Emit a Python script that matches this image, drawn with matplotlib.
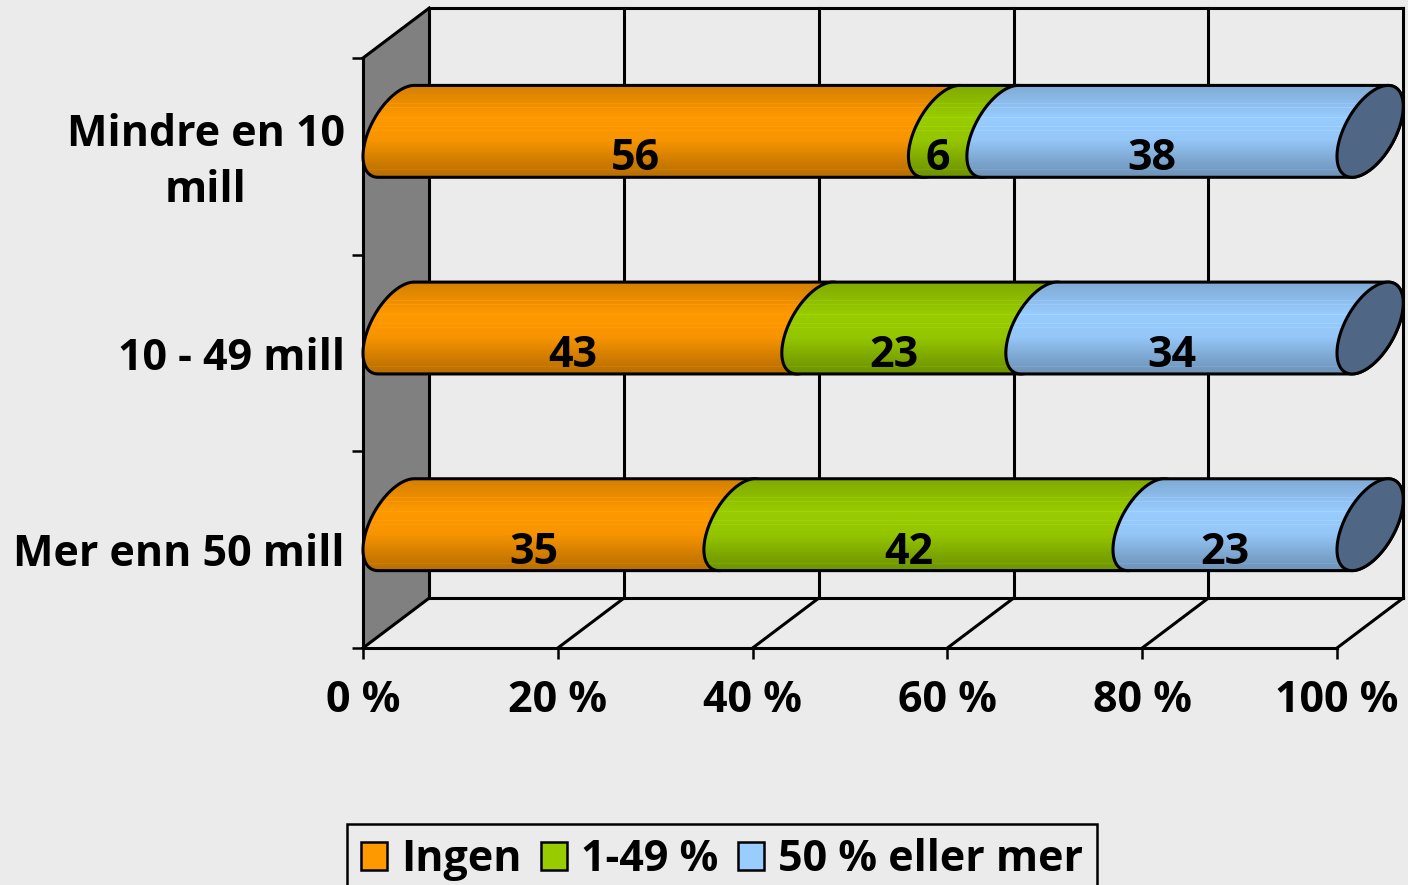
# stacked 3D-look cylinder bars
import numpy as np
import matplotlib
matplotlib.use("Agg")
import matplotlib.pyplot as plt
from matplotlib.patches import Polygon, Patch
from matplotlib.transforms import ScaledTranslation

plt.rcParams['font.family'] = ['Open Sans', 'DejaVu Sans']
plt.rcParams['font.weight'] = 'bold'

# data, bottom row first
categories = ["Mer enn 50 mill", "10 - 49 mill", "Mindre en 10\nmill"]
ingen = [35, 43, 56]
middels = [42, 23, 6]
mye = [23, 34, 38]
series_names = ["Ingen", "1-49 %", "50 % eller mer"]
series_colors = ["#ff9900", "#99cc00", "#99ccff"]
xticks = [0, 20, 40, 60, 80, 100]
xticklabels = ["0 %", "20 %", "40 %", "60 %", "80 %", "100 %"]

bg = "#ebebeb"
fs = 31
lw = 2.2

# depth of the fake 3D box in data units
dx = 6.8
dy = 0.254
b = 0.196
R = np.hypot(dy / 2, b)
t0 = np.arctan2(b, dy / 2)


def ring(v, c, t):
    x = v + dx / 2 + dx / 2 * np.cos(t)
    y = c + dy / 2 + dy / 2 * np.cos(t) + b * np.sin(t)
    return np.column_stack([x, y])


def shaded(color):
    base = np.array(matplotlib.colors.to_rgb(color))
    pos = np.linspace(0, 1, 92)
    shade = np.interp(pos, [0, 0.08, 0.35, 0.6, 0.85, 1], [0.84, 0.87, 1.0, 0.97, 0.8, 0.72])
    # faint lighter stripes as in the old chart export
    for p in [0.2, 0.25, 0.36, 0.46, 0.5, 0.93]:
        shade[int(p * 91)] += 0.05
    return (shade[:, None] * base)[:, None, :].clip(0, 1)


fig = plt.figure(figsize=(14.08, 8.85), dpi=100, facecolor=bg)
ax = fig.add_axes([363 / 1408, (885 - 648) / 885, 974 / 1408, 590 / 885], facecolor="none")
ax.set_xlim(0, 100)
ax.set_ylim(0, 3)
for s in ax.spines.values():
    s.set_visible(False)

# left wall
ax.add_patch(Polygon([(0, 0), (dx, dy), (dx, 3 + dy), (0, 3)], closed=True, fc="#808080", ec="none",
                     clip_on=False, zorder=1))

# back wall and floor lines
for v in xticks:
    ax.plot([v + dx, v + dx], [dy, 3 + dy], color="k", lw=lw, clip_on=False, zorder=2)
    ax.plot([v, v + dx], [0, dy], color="k", lw=lw, clip_on=False, zorder=2)
ax.plot([dx, 100 + dx], [dy, dy], color="k", lw=lw, clip_on=False, zorder=2)
ax.plot([dx, 100 + dx], [3 + dy, 3 + dy], color="k", lw=lw, clip_on=False, zorder=2)
ax.plot([0, 100], [0, 0], color="k", lw=lw, clip_on=False, zorder=2)
ax.plot([0, 0], [0, 3], color="k", lw=lw, clip_on=False, zorder=2)
ax.plot([0, dx], [3, 3 + dy], color="k", lw=lw, clip_on=False, zorder=2)

# bars
z = 3
for i in range(len(categories)):
    c = i + 0.5
    left = 0
    for vals, col in zip([ingen, middels, mye], series_colors):
        right = left + vals[i]
        arc1 = ring(left, c, np.linspace(t0, t0 + np.pi, 60))
        arc2 = ring(right, c, np.linspace(t0 - np.pi, t0, 60))
        outline = Polygon(np.vstack([arc1, arc2]), closed=True, fc="none", ec="k", lw=lw,
                          clip_on=False, zorder=z + 0.5, joinstyle="round")
        im = ax.imshow(shaded(col), extent=[left, right + dx, c + dy / 2 - R, c + dy / 2 + R],
                       aspect="auto", interpolation="nearest", origin="upper", zorder=z)
        ax.add_patch(outline)
        clip = Polygon(np.vstack([arc1, arc2]), closed=True, transform=ax.transData)
        im.set_clip_box(fig.bbox)
        im.set_clip_path(clip)
        ax.text((left + right) / 2, c - 0.012, str(vals[i]), ha="center", va="center", fontsize=fs,
                color="k", zorder=20)
        left = right
        z += 1
    # dark end of the cylinder
    cap = ring(100, c, np.linspace(0, 2 * np.pi, 120))
    ax.add_patch(Polygon(cap, closed=True, fc="#4f6785", ec="k", lw=lw, clip_on=False, zorder=z))
    z += 1

ax.set_xlim(0, 100)
ax.set_ylim(0, 3)

# ticks
ax.set_xticks(xticks)
ax.set_xticklabels(xticklabels, fontsize=fs)
ax.set_yticks([0, 1, 2, 3])
ax.set_yticklabels([])
ax.set_yticks([0.5, 1.5, 2.5], minor=True)
ax.set_yticklabels(categories, minor=True, fontsize=fs, multialignment="center", linespacing=1.38)
ax.tick_params(axis="x", length=8, width=1.8, pad=14)
ax.tick_params(axis="y", which="major", length=8, width=1.8)
ax.tick_params(axis="y", which="minor", length=0, pad=13)

# two line label sits a little higher
top_label = ax.get_yticklabels(minor=True)[2]
top_label.set_transform(top_label.get_transform() + ScaledTranslation(0, 5 / 100, fig.dpi_scale_trans))

handles = [Patch(fc=col, ec="k", lw=1.8, label=name) for col, name in zip(series_colors, series_names)]
leg = fig.legend(handles=handles, ncol=3, loc="upper left", bbox_to_anchor=(347 / 1408, 1 - 824 / 885),
                 borderaxespad=0, fontsize=fs, frameon=True, fancybox=False, framealpha=1,
                 facecolor=bg, edgecolor="k", handlelength=0.6, handleheight=0.6, handletextpad=0.33,
                 columnspacing=0.45, borderpad=0.33)
leg.get_frame().set_linewidth(1.8)

fig.savefig("out.png", dpi=100, facecolor=bg)
